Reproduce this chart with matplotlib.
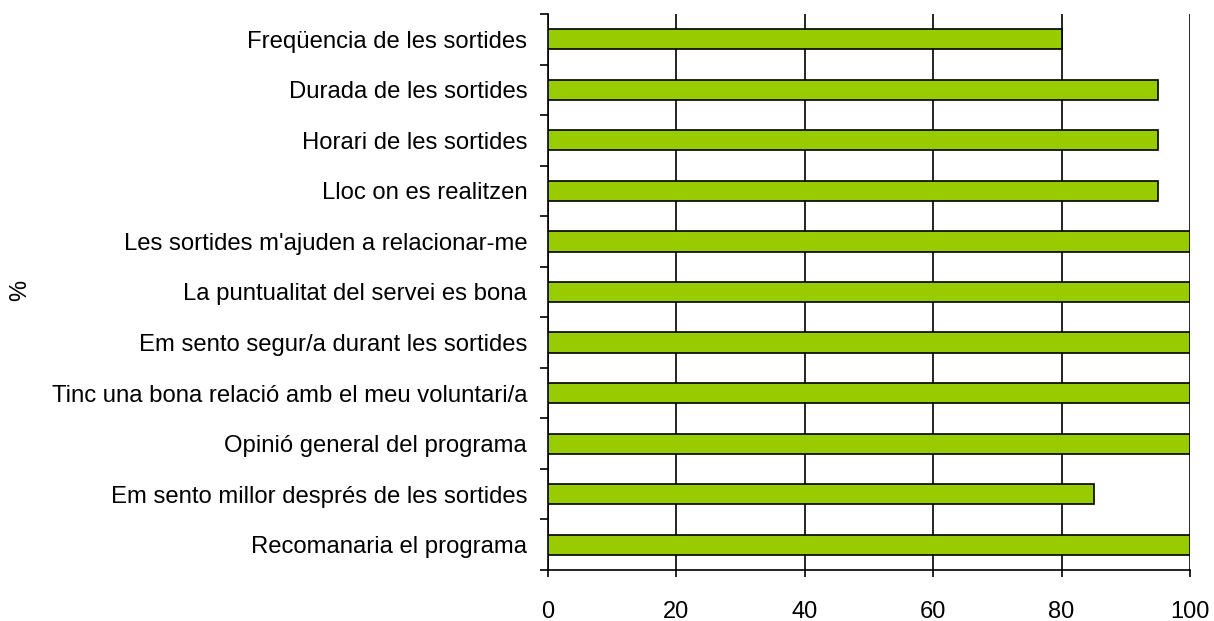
import numpy as np
from matplotlib import pyplot as plt

# categories from top to bottom as shown
categories = [
    "Freqüencia de les sortides",
    "Durada de les sortides",
    "Horari de les sortides",
    "Lloc on es realitzen",
    "Les sortides m'ajuden a relacionar-me",
    "La puntualitat del servei es bona",
    "Em sento segur/a durant les sortides",
    "Tinc una bona relació amb el meu voluntari/a",
    "Opinió general del programa",
    "Em sento millor després de les sortides",
    "Recomanaria el programa",
]
values = [80, 95, 95, 95, 100, 100, 100, 100, 100, 85, 100]
xticks = [0, 20, 40, 60, 80, 100]

plt.rcParams['font.family'] = ['Liberation Sans', 'DejaVu Sans']

fig = plt.figure(figsize=(12.14, 6.21), dpi=100)
ax = fig.add_axes([548 / 1214, 1 - 570 / 621, 642 / 1214, 556 / 621])

n = len(categories)
pos = np.arange(n)[::-1]
ax.barh(pos, values, height=0.4, color="#99CC00", edgecolor="black", linewidth=1.2, zorder=3)

ax.set_xlim(0, 100)
ax.set_ylim(-0.5, n - 0.5)
ax.set_xticks(xticks)
ax.set_xticklabels([str(t) for t in xticks], fontsize=17)
ax.xaxis.grid(True, color="black", linewidth=1.2, zorder=0)

# labels on category centres without tick marks, tick marks at boundaries
ax.set_yticks(pos)
ax.set_yticklabels(categories, fontsize=17.2)
ax.tick_params(axis="y", which="major", length=0, pad=15)
ax.set_yticks(np.arange(-0.5, n, 1), minor=True)
ax.tick_params(axis="y", which="minor", length=5.5, width=1.2, direction="out")
ax.tick_params(axis="x", length=5, width=1.2, direction="out", pad=17)

ax.spines["top"].set_visible(False)
ax.spines["right"].set_visible(False)
ax.spines["left"].set_linewidth(1.2)
ax.spines["bottom"].set_linewidth(1.2)

fig.text(20 / 1214, 1 - 290 / 621, "%", rotation=90, fontsize=17, ha="center", va="center")

fig.savefig("out.png", dpi=100)
